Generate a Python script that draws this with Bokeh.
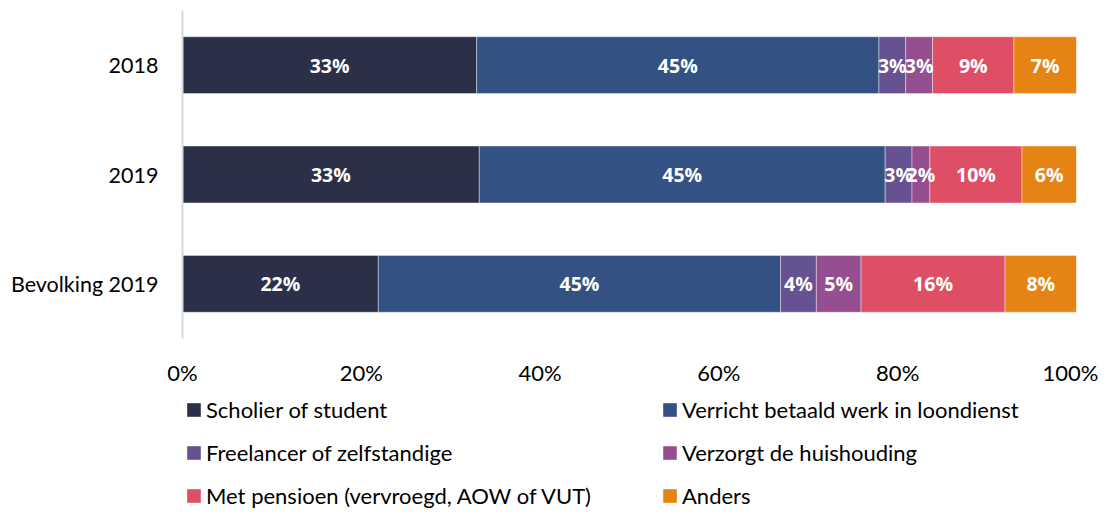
from bokeh.plotting import figure
from bokeh.layouts import column
from bokeh.core.properties import value
from bokeh.models import (ColumnDataSource, FactorRange, FixedTicker, PrintfTickFormatter,
                          Legend, LegendItem, LabelSet, Range1d)
from bokeh.embed import file_html
from bokeh.resources import INLINE

categories = ["2018", "2019", "Bevolking 2019"]
series = ["Scholier of student", "Verricht betaald werk in loondienst",
          "Freelancer of zelfstandige", "Verzorgt de huishouding",
          "Met pensioen (vervroegd, AOW of VUT)", "Anders"]
scholier = [32.9, 33.2, 21.9]
verricht = [45.0, 45.4, 45.0]
freelancer = [3.0, 3.0, 4.0]
huishouding = [3.0, 2.0, 5.0]
pensioen = [9.1, 10.3, 16.1]
anders = [7.0, 6.1, 8.0]
colors = ["#2B2F47", "#335283", "#665191", "#954F90", "#DE4F66", "#E58314"]
x_ticks = [0, 20, 40, 60, 80, 100]

FONT = "Lato"
BOLD_FONT = "Open Sans"
keys = ["s0", "s1", "s2", "s3", "s4", "s5"]
values = [scholier, verricht, freelancer, huishouding, pensioen, anders]
data = {"cat": categories}
for k, v in zip(keys, values):
    data[k] = v
source = ColumnDataSource(data)

p = figure(width=1098, height=388, output_backend="svg", toolbar_location=None,
           y_range=FactorRange(*reversed(categories), range_padding=0),
           x_range=(0, 100),
           min_border_left=182, min_border_right=22, min_border_top=10,
           min_border_bottom=48)
p.outline_line_color = None
p.grid.visible = False
p.background_fill_color = "white"

p.hbar_stack(keys, y="cat", height=0.52, source=source, color=colors,
             line_color="white", line_width=0.8, line_alpha=0.5)

# value labels
lx, ly, lt = [], [], []
for i, c in enumerate(categories):
    cum = 0.0
    for v in values:
        val = v[i]
        lx.append(cum + val / 2)
        ly.append(c)
        lt.append(f"{round(val)}%")
        cum += val
lsrc = ColumnDataSource(dict(x=lx, y=ly, t=lt))
labels = LabelSet(x="x", y="y", text="t", source=lsrc, text_align="center",
                  text_baseline="middle", text_color="white",
                  text_font=value(BOLD_FONT), text_font_style="bold",
                  text_font_size="19.5px")
p.add_layout(labels)

# axes
p.xaxis.ticker = FixedTicker(ticks=x_ticks)
p.xaxis.formatter = PrintfTickFormatter(format="%d%%")
p.xaxis.axis_line_color = None
p.xaxis.major_tick_line_color = None
p.xaxis.minor_tick_line_color = None
p.xaxis.major_label_standoff = 14
p.xaxis.major_label_text_font = FONT
p.xaxis.major_label_text_font_size = "22px"
p.xaxis.major_label_text_color = "#000000"

p.yaxis.axis_line_color = "#D9D9D9"
p.yaxis.axis_line_width = 2
p.yaxis.major_tick_line_color = None
p.yaxis.minor_tick_line_color = None
p.yaxis.major_label_standoff = 18
p.yaxis.major_label_text_font = FONT
p.yaxis.major_label_text_font_size = "21.5px"
p.yaxis.major_label_text_color = "#000000"

# legend panel: zero-height copies of the stacked bars serve as legend proxies
p2 = figure(width=1098, height=121, output_backend="svg", toolbar_location=None,
            x_range=Range1d(-400, -300),
            y_range=FactorRange(*reversed(categories), range_padding=0),
            min_border_left=182, min_border_right=22, min_border_top=0, min_border_bottom=0)
p2.axis.visible = False
p2.grid.visible = False
p2.outline_line_color = None

proxies = p2.hbar_stack(keys, y="cat", height=0.0, source=source, color=colors,
                        line_color=None)

def make_legend(idx, x):
    items = [LegendItem(label=series[i], renderers=[proxies[i]]) for i in idx]
    return Legend(items=items, location=(x, 0), orientation="vertical",
                  glyph_width=17, glyph_height=17, label_height=26, spacing=16,
                  label_standoff=4, padding=0, margin=0, border_line_color=None,
                  background_fill_alpha=0, label_text_font=FONT,
                  label_text_font_size="22px", label_text_color="#000000",
                  label_text_baseline="middle")

p2.add_layout(make_legend([0, 2, 4], 3), "center")
p2.add_layout(make_legend([1, 3, 5], 479), "center")

layout = column(p, p2, spacing=0)
open("out.html", "w").write(file_html(layout, INLINE))
